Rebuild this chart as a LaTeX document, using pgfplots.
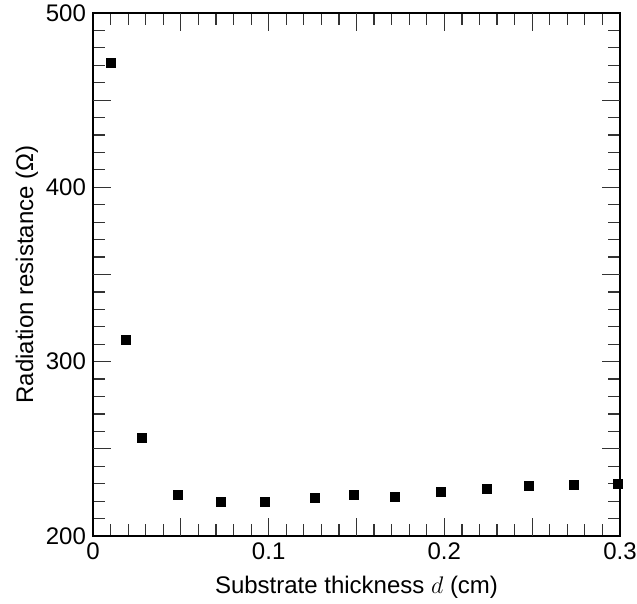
\documentclass[border=0pt]{standalone}
\usepackage{fontspec}
\setmainfont{Liberation Sans}
\usepackage{pgfplots}
\pgfplotsset{compat=1.18}
\begin{document}
\begin{tikzpicture}
\begin{axis}[
  scale only axis,
  width=263.5pt, height=261.5pt,
  xmin=0, xmax=0.3, ymin=200, ymax=500,
  xtick={0,0.1,0.2,0.3},
  xticklabels={0,0.1,0.2,0.3},
  ytick={200,300,400,500},
  extra x ticks={0.05,0.15,0.25},
  extra x tick labels={},
  extra y ticks={250,350,450},
  extra y tick labels={},
  minor x tick num=9,
  minor y tick num=9,
  tick align=inside,
  major tick length=9pt,
  minor tick length=6pt,
  every tick/.style={black!80, line width=0.6pt},
  axis line style={line width=1.3pt},
  /pgf/number format/assume math mode=true,
  tick label style={font=\fontsize{12}{14}\selectfont},
  label style={font=\fontsize{12}{14}\selectfont},
  xlabel={Substrate thickness $d$ (cm)},
  ylabel={Radiation resistance (Ω)},
  xlabel style={yshift=-1pt},
  ylabel style={yshift=-3pt},
  clip=false,
]
\addplot[only marks, mark=square*, mark size=2.25pt, black] coordinates {
  (0.0101,471.5)
  (0.0186,312.4)
  (0.0280,256.0)
  (0.0482,223.5)
  (0.0729,219.5)
  (0.0980,219.5)
  (0.1264,222.0)
  (0.1488,223.5)
  (0.1720,222.5)
  (0.1980,225.2)
  (0.2245,227.0)
  (0.2484,228.7)
  (0.2738,229.4)
  (0.2990,229.6)
};
\end{axis}
\pgfresetboundingbox
\path (current axis.south west) ++(-46.5pt,-34pt) coordinate (bbA);
\path (current axis.north east) ++(8.5pt,6.5pt) coordinate (bbB);
\useasboundingbox (bbA) rectangle (bbB);
\end{tikzpicture}
\end{document}
